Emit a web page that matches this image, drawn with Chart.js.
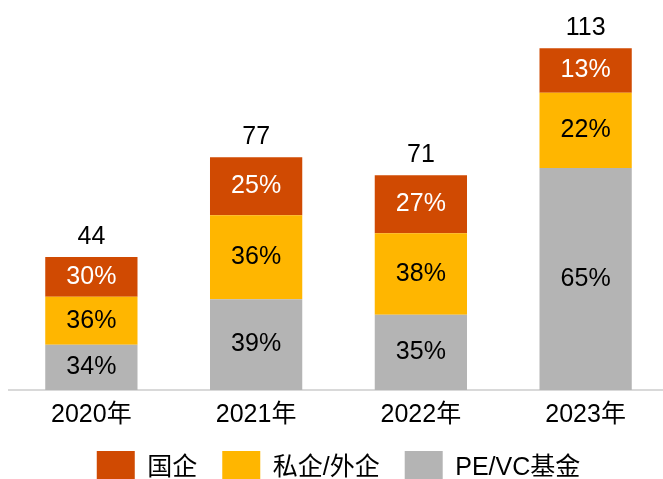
<!DOCTYPE html>
<html>
<head>
<meta charset="utf-8">
<script src="https://cdn.jsdelivr.net/npm/chart.js@4"></script>
<style>
    html, body { margin: 0; padding: 0; background: #fff; overflow: hidden; }
    #wrap { width: 663px; height: 479px; overflow: hidden; position: relative; }
    #box { width: 668px; height: 495px; position: absolute; left: 0; top: 0; }
</style>
</head>
<body>
<div id="wrap"><div id="box"><canvas id="chart"></canvas></div></div>
<script>
// 数据
const years = ['2020年', '2021年', '2022年', '2023年'];
const totals = [44, 77, 71, 113];
const pctState = [30, 25, 27, 13];     // 国企
const pctPrivate = [36, 36, 38, 22];   // 私企/外企
const pctPEVC = [34, 39, 35, 65];      // PE/VC基金

const FONT = "'Liberation Sans', Arial, 'Noto Sans CJK SC', sans-serif";

// 百分比换算成柱高
const toValues = (pcts) => pcts.map((p, i) => totals[i] * p / 100);

const labelPlugin = {
    id: 'segmentLabels',
    afterDatasetsDraw(chart) {
        const ctx = chart.ctx;
        ctx.save();
        ctx.font = '25px ' + FONT;
        ctx.textAlign = 'center';
        ctx.textBaseline = 'middle';
        chart.data.datasets.forEach((ds, di) => {
            const meta = chart.getDatasetMeta(di);
            meta.data.forEach((bar, i) => {
                ctx.fillStyle = ds.labelColor;
                ctx.fillText(ds.pcts[i] + '%', bar.x, (bar.y + bar.base) / 2);
            });
        });
        // 总数
        const topMeta = chart.getDatasetMeta(chart.data.datasets.length - 1);
        ctx.fillStyle = '#000';
        topMeta.data.forEach((bar, i) => {
            ctx.fillText(String(totals[i]), bar.x, bar.y - 20);
        });
        ctx.restore();
    }
};

const ctx = document.getElementById('chart').getContext('2d');
new Chart(ctx, {
    type: 'bar',
    data: {
        labels: years,
        datasets: [
            {
                label: 'PE/VC基金',
                data: toValues(pctPEVC),
                pcts: pctPEVC,
                labelColor: '#000',
                backgroundColor: '#B4B4B4',
            },
            {
                label: '私企/外企',
                data: toValues(pctPrivate),
                pcts: pctPrivate,
                labelColor: '#000',
                backgroundColor: '#FFB600',
            },
            {
                label: '国企',
                data: toValues(pctState),
                pcts: pctState,
                labelColor: '#fff',
                backgroundColor: '#D04A02',
            }
        ]
    },
    options: {
        responsive: true,
        maintainAspectRatio: false,
        animation: false,
        barPercentage: 0.56,
        categoryPercentage: 1,
        layout: { padding: { left: 9, top: 12, right: 0, bottom: 0 } },
        plugins: {
            tooltip: { enabled: false },
            legend: {
                position: 'bottom',
                reverse: true,
                labels: {
                    boxWidth: 38,
                    boxHeight: 34,
                    padding: 25,
                    color: '#000',
                    font: { family: FONT, size: 25 }
                }
            }
        },
        scales: {
            x: {
                stacked: true,
                grid: { display: false, drawTicks: false },
                border: { display: true, color: '#D9D9D9', width: 2 },
                ticks: {
                    color: '#000',
                    padding: 14,
                    font: { family: FONT, size: 25, lineHeight: 0.88 }
                },
                afterFit: (scale) => { scale.height = 36; }
            },
            y: {
                stacked: true,
                display: false,
                min: 0,
                max: 125
            }
        }
    },
    plugins: [labelPlugin]
});
</script>
</body>
</html>
